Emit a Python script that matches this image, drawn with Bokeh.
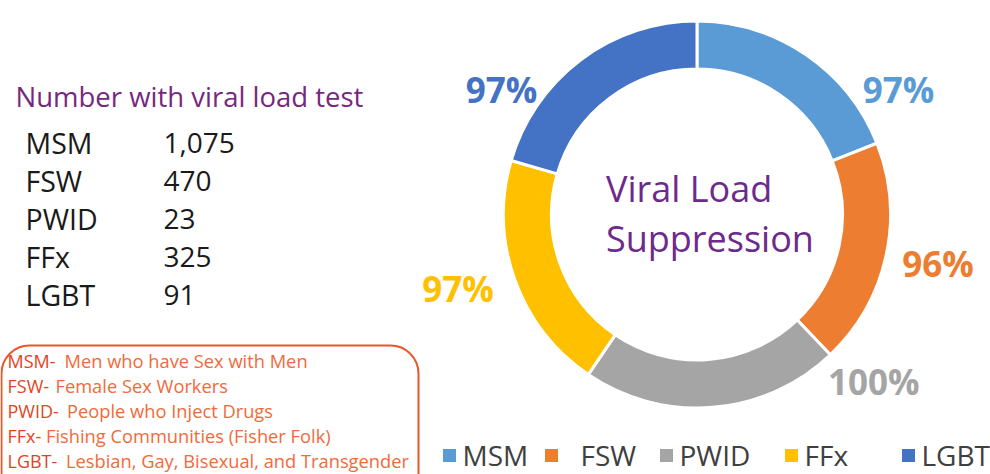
import math
from bokeh.plotting import figure
from bokeh.models import ColumnDataSource, BoxAnnotation, Legend, LegendItem, Range1d
from bokeh.core.properties import value
from bokeh.embed import file_html
from bokeh.resources import INLINE

# ---------------- data ----------------
groups = ["MSM", "FSW", "PWID", "FFx", "LGBT"]
suppression_pct = [97, 96, 100, 97, 97]
ring_share = [19.0, 18.9, 21.6, 20.0, 20.5]          # share of the ring drawn per group (%)
tested_n = [1075, 470, 23, 325, 91]
full_names = ["Men who have Sex with Men", "Female Sex Workers", "People who Inject Drugs",
              "Fishing Communities (Fisher Folk)", "Lesbian, Gay, Bisexual, and Transgender"]
colors = ["#5B9BD5", "#ED7D31", "#A5A5A5", "#FFC000", "#4472C4"]

# ---------------- layout constants ----------------
W, H = 990, 474
FONT_NAME = "Open Sans"
FONT = value(FONT_NAME)
PURPLE = "#6C2A8C"
cx, cy = 696.5, -214.0
r_in, r_out = 145.5, 193.5
label_angle = [31.8, -11.5, -43.3, -162.9, 147.4]     # degrees
label_radius = [237, 246, 243, 250, 232]
legend_x = [438.5, 540.5, 655.5, 780.5, 897.5]
legend_standoff = [4, 20, 4, 4, 4]

p = figure(width=W, height=H, x_range=Range1d(0, W), y_range=Range1d(-H, 0),
           output_backend="svg", toolbar_location=None, x_axis_type=None, y_axis_type=None,
           min_border=0, outline_line_color=None)
p.background_fill_color = "white"
p.border_fill_color = "white"

# ---------------- donut ----------------
total = sum(ring_share)
starts, ends = [], []
a = 90.0
for s in ring_share:
    starts.append(math.radians(a))
    a -= s / total * 360.0
    ends.append(math.radians(a))

src = ColumnDataSource(dict(x=[cx] * 5, y=[cy] * 5, start=starts, end=ends,
                            color=colors, group=groups))
ring = p.annular_wedge(x="x", y="y", inner_radius=r_in, outer_radius=r_out,
                       start_angle="start", end_angle="end", direction="clock",
                       fill_color="color", line_color="white", line_width=3, source=src)

# percentage labels
lx = [cx + rr * math.cos(math.radians(aa)) for rr, aa in zip(label_radius, label_angle)]
ly = [cy + rr * math.sin(math.radians(aa)) for rr, aa in zip(label_radius, label_angle)]
lsrc = ColumnDataSource(dict(x=lx, y=ly, txt=[f"{v}%" for v in suppression_pct], color=colors))
p.text(x="x", y="y", text="txt", text_color="color", source=lsrc, text_font=FONT,
       text_font_size="35px", text_font_style="bold", text_align="center",
       text_baseline="alphabetic")

# centre text
p.text(x=[cx - 91], y=[cy + 26], text=["Viral Load"], text_font=FONT, text_font_size="36px",
       text_color=PURPLE, text_align="left", text_baseline="alphabetic")
p.text(x=[cx - 91], y=[cy - 24], text=["Suppression"], text_font=FONT, text_font_size="36px",
       text_color=PURPLE, text_align="left", text_baseline="alphabetic")

# ---------------- left table ----------------
p.text(x=[15], y=[-96], text=["Number with viral load test"], text_font=FONT,
       text_font_size="27.5px", text_color="#76287F", text_align="left", text_baseline="alphabetic")
rows_y = [-(142.5 + 38 * i) for i in range(len(groups))]
tsrc = ColumnDataSource(dict(y=rows_y, g=groups, n=[f"{v:,}" for v in tested_n]))
p.text(x=25, y="y", text="g", source=tsrc, text_font=FONT, text_font_size="28.5px",
       text_color="#1A1A1A", text_align="left", text_baseline="alphabetic")
p.text(x=163, y="y", text="n", source=tsrc, text_font=FONT, text_font_size="28px",
       text_color="#1A1A1A", text_align="left", text_baseline="alphabetic")

# ---------------- definitions box ----------------
box = BoxAnnotation(left=1, right=418, top=-345, bottom=-520, border_radius=28,
                    line_color="#E8562A", line_alpha=1.0, line_width=2, fill_alpha=0)
p.add_layout(box)
def_y = [-(360 + 25 * i) for i in range(len(groups))]
desc_x = [64, 55, 66.5, 45.5, 65.5]
dsrc = ColumnDataSource(dict(y=def_y, term=[f"{g}-" for g in groups], desc=full_names, dx=desc_x))
p.text(x=7, y="y", text="term", source=dsrc, text_font=FONT, text_font_size="18px",
       text_color="#E2441C", text_align="left", text_baseline="alphabetic")
p.text(x="dx", y="y", text="desc", source=dsrc, text_font=FONT, text_font_size="18.3px",
       text_color="#F26A3A", text_align="left", text_baseline="alphabetic")

# ---------------- legend (one entry per box, placed like the original) ----------------
for i, g in enumerate(groups):
    leg = Legend(items=[LegendItem(label=g, renderers=[ring], index=i)],
                 orientation="horizontal", location=(legend_x[i], 0),
                 glyph_width=20, glyph_height=20, label_standoff=legend_standoff[i], spacing=0,
                 padding=0, margin=0, border_line_color=None, background_fill_alpha=0,
                 label_text_font=FONT_NAME, label_text_font_size="28px",
                 label_text_color="#404040")
    p.add_layout(leg)

open("out.html", "w").write(file_html(p, INLINE))
